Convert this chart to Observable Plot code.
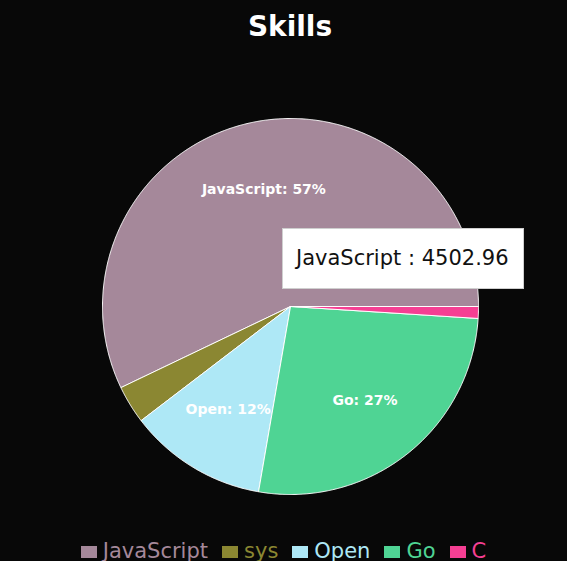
<!DOCTYPE html>
<html>
<head>
<meta charset="utf-8">
<script src="https://cdn.jsdelivr.net/npm/d3@7"></script>
<script src="https://cdn.jsdelivr.net/npm/@observablehq/plot@0.6"></script>
<style>
  html, body { margin: 0; padding: 0; background: #080808; width: 567px; height: 561px; overflow: hidden; }
  #title { height: 54px; line-height: 54px; text-align: center; padding-left: 13px; color: #fff;
           font-family: "DejaVu Sans", sans-serif; font-weight: bold; font-size: 28px; }
  #chart { position: relative; height: 470px; }
  #legend { height: 37px; box-sizing: border-box; padding-top: 16px; display: flex; justify-content: center;
            align-items: center; font-family: "DejaVu Sans", sans-serif; font-size: 21px; line-height: 22px; }
  .item { display: flex; align-items: center; margin: 0 7px; }
  .sw { width: 16px; height: 12px; margin-right: 6px; margin-top: 2px; }
  #tip { position: absolute; left: 282px; top: 228px; width: 242px; height: 61px; box-sizing: border-box;
         background: #fff; border: 1px solid #cfcfcf; color: #111; font-family: "DejaVu Sans", sans-serif;
         font-size: 21px; line-height: 59px; padding-left: 13px; white-space: nowrap; }
</style>
</head>
<body>
<div id="title">Skills</div>
<div id="chart"></div>
<div id="legend"></div>
<div id="tip"></div>
<script>
const categories = ["JavaScript", "sys", "Open", "Go", "C"];
const values = [4502.96, 259, 938, 2106, 80];
const colors = ["#a5889a", "#8b8732", "#aee8f6", "#4fd494", "#f53f93"];
const tooltipCategory = "JavaScript";

const total = d3.sum(values);
const arcs = d3.pie().sort(null).startAngle(0).endAngle(2 * Math.PI)(values);

// polygon points for each slice (math angles, counter-clockwise from east)
const slicePts = [];
arcs.forEach((a, i) => {
  const name = categories[i];
  slicePts.push({name, x: 0, y: 0});
  const n = Math.max(2, Math.ceil((a.endAngle - a.startAngle) / 0.005));
  for (let k = 0; k <= n; k++) {
    const t = a.startAngle + (a.endAngle - a.startAngle) * k / n;
    slicePts.push({name, x: Math.cos(t), y: Math.sin(t)});
  }
  slicePts.push({name, x: 0, y: 0});
});

const labels = arcs.map((a, i) => {
  const m = (a.startAngle + a.endAngle) / 2;
  const pct = values[i] / total * 100;
  return {name: categories[i], pct, x: 0.64 * Math.cos(m), y: 0.64 * Math.sin(m)};
}).filter(d => d.pct >= 5);

const cx = 290, cy = 252, r = 188;
const plot = Plot.plot({
  width: 567,
  height: 470,
  margin: 0,
  style: {background: "transparent"},
  x: {domain: [-1, 1], range: [cx - r, cx + r], axis: null},
  y: {domain: [-1, 1], range: [cy + r, cy - r], axis: null},
  color: {domain: categories, range: colors},
  marks: [
    Plot.line(slicePts, {x: "x", y: "y", z: "name", fill: "name", stroke: "#fff", strokeWidth: 1, strokeLinejoin: "round"}),
    Plot.text(labels, {x: "x", y: "y", text: d => `${d.name}: ${Math.round(d.pct)}%`, fill: "#fff",
      fontSize: 14, fontWeight: "bold", fontFamily: "DejaVu Sans, sans-serif"})
  ]
});
document.getElementById("chart").appendChild(plot);

const legend = document.getElementById("legend");
categories.forEach((c, i) => {
  const it = document.createElement("div");
  it.className = "item";
  it.innerHTML = `<div class="sw" style="background:${colors[i]}"></div><span style="color:${colors[i]}">${c}</span>`;
  legend.appendChild(it);
});

const ti = categories.indexOf(tooltipCategory);
document.getElementById("tip").textContent = `${tooltipCategory} : ${values[ti]}`;
</script>
</body>
</html>
